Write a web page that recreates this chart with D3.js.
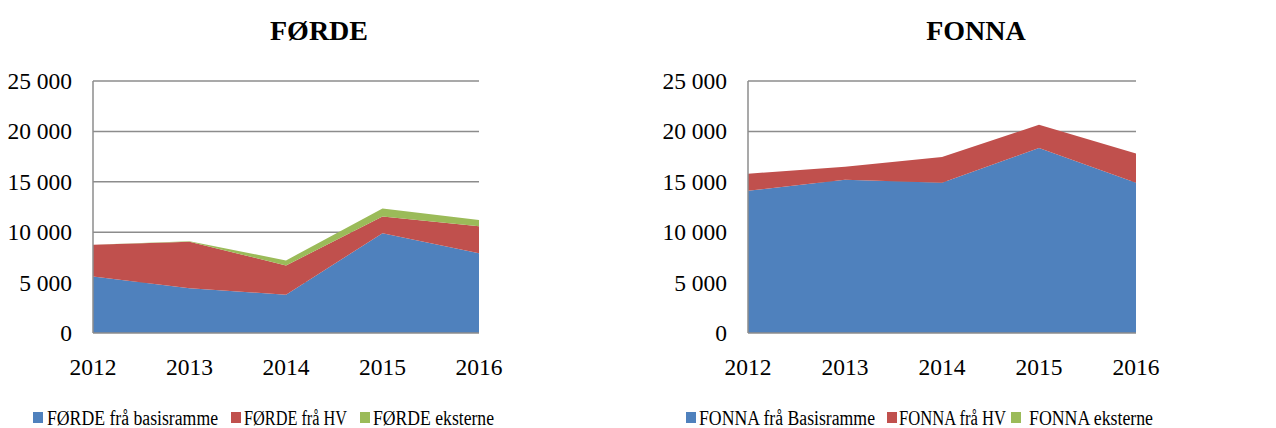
<!DOCTYPE html>
<html>
<head>
<meta charset="utf-8">
<script src="https://cdn.jsdelivr.net/npm/d3@7"></script>
<style>
  html, body { margin: 0; padding: 0; background: #fff; }
  svg { display: block; }
  text { font-family: "Liberation Serif", "Times New Roman", serif; fill: #000; }
</style>
</head>
<body>
<svg id="chart" width="1276" height="428"></svg>
<script>
const years = ["2012", "2013", "2014", "2015", "2016"];
const yTicks = [0, 5000, 10000, 15000, 20000, 25000];

const fordeBasis = [5600, 4450, 3800, 9900, 7900];
const fordeHV = [3150, 4600, 2900, 1650, 2700];
const fordeEkst = [0, 50, 500, 800, 600];

const fonnaBasis = [14100, 15200, 14900, 18350, 14900];
const fonnaHV = [1700, 1300, 2550, 2300, 2900];
const fonnaEkst = [0, 0, 0, 0, 0];

const fordeNames = ["FØRDE frå basisramme", "FØRDE frå HV", "FØRDE eksterne"];
const fonnaNames = ["FONNA frå Basisramme", "FONNA frå HV", "FONNA eksterne"];
const colors = ["#4F81BD", "#C0504D", "#9BBB59"];

const svg = d3.select("#chart");
const fmt = v => v === 0 ? "0" : d3.format(",")(v).replace(/,/g, " ");

function drawPanel(cfg) {
  const g = svg.append("g");
  const x = d3.scalePoint().domain(years).range([cfg.x0, cfg.x1]);
  const y = d3.scaleLinear().domain([0, 25000]).range([333, 81]);

  // title
  g.append("text").attr("x", cfg.titleX).attr("y", 40)
    .attr("text-anchor", "middle").style("font-weight", "bold").style("font-size", "28px")
    .text(cfg.title);

  // gridlines
  g.append("g").selectAll("line").data(yTicks.filter(t => t > 0)).join("line")
    .attr("x1", cfg.x0).attr("x2", cfg.x1)
    .attr("y1", d => y(d)).attr("y2", d => y(d))
    .attr("stroke", "#8c8c8c").attr("stroke-width", 1.5);

  // stacked areas
  const table = years.map((yr, i) => ({ year: yr, s0: cfg.series[0][i], s1: cfg.series[1][i], s2: cfg.series[2][i] }));
  const stack = d3.stack().keys(["s0", "s1", "s2"])(table);
  const area = d3.area()
    .x(d => x(d.data.year))
    .y0(d => y(d[0]))
    .y1(d => y(d[1]));
  g.append("g").selectAll("path").data(stack).join("path")
    .attr("d", area)
    .attr("fill", (d, i) => colors[i])
    .attr("stroke", "none");

  // axes lines
  g.append("line").attr("x1", cfg.x0).attr("x2", cfg.x0).attr("y1", y(25000)).attr("y2", y(0))
    .attr("stroke", "#8c8c8c").attr("stroke-width", 1.5);
  g.append("line").attr("x1", cfg.x0).attr("x2", cfg.x1).attr("y1", y(0)).attr("y2", y(0))
    .attr("stroke", "#8c8c8c").attr("stroke-width", 1.5);

  // y tick labels
  g.append("g").selectAll("text").data(yTicks).join("text")
    .attr("x", cfg.yLabelX).attr("y", d => y(d) + 8)
    .attr("text-anchor", "end").style("font-size", "23.5px")
    .text(fmt);

  // x tick labels
  g.append("g").selectAll("text").data(years).join("text")
    .attr("x", d => x(d)).attr("y", 375)
    .attr("text-anchor", "middle").style("font-size", "23.5px")
    .text(d => d);

  // legend
  const leg = g.append("g");
  cfg.names.forEach((n, i) => {
    leg.append("rect").attr("x", cfg.legX[i]).attr("y", 412).attr("width", 10).attr("height", 11)
      .attr("fill", colors[i]);
    leg.append("text").attr("x", cfg.legT[i]).attr("y", 425)
      .style("font-size", "20px")
      .attr("textLength", cfg.legW[i]).attr("lengthAdjust", "spacingAndGlyphs")
      .text(n);
  });
}

drawPanel({
  title: "FØRDE", titleX: 319, x0: 93, x1: 479, yLabelX: 72,
  series: [fordeBasis, fordeHV, fordeEkst], names: fordeNames,
  legX: [33, 231, 360], legT: [47, 244, 373], legW: [171, 103, 121]
});
drawPanel({
  title: "FONNA", titleX: 976, x0: 748, x1: 1136, yLabelX: 727,
  series: [fonnaBasis, fonnaHV, fonnaEkst], names: fonnaNames,
  legX: [686, 887, 1011], legT: [699, 899, 1029], legW: [176, 107, 124]
});
</script>
</body>
</html>
